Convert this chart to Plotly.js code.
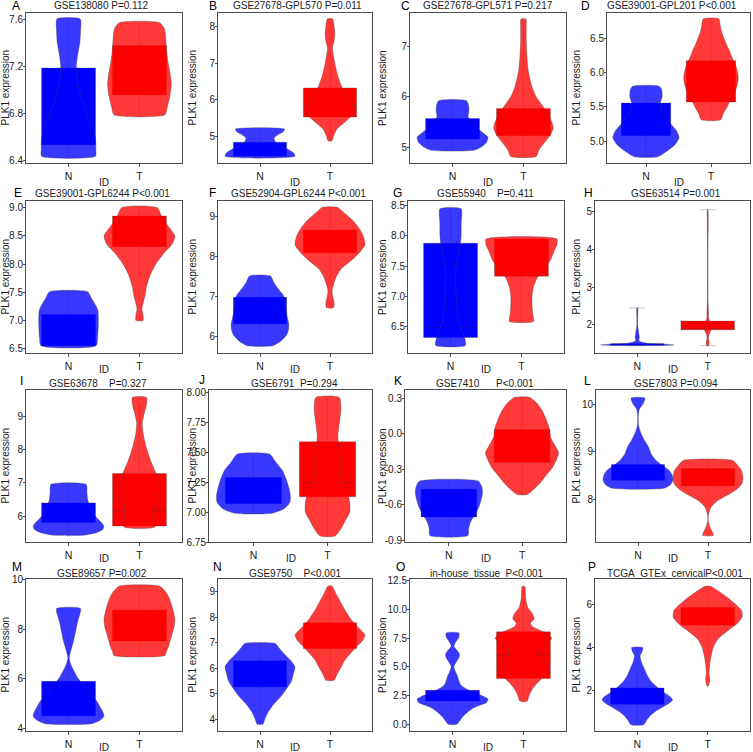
<!DOCTYPE html>
<html><head><meta charset="utf-8">
<script src="https://cdn.plot.ly/plotly-3.0.1.min.js"></script>
<style>html,body{margin:0;padding:0;background:#fff}#chart{width:753px;height:752px}</style>
</head><body><div id="chart"></div>
<script>
// ---------------- DATA ----------------
const categories = ['N', 'T'];
const letters = ['A','B','C','D','E','F','G','H','I','J','K','L','M','N','O','P'];
const titles = [
  'GSE138080 P=0.112', 'GSE27678-GPL570 P=0.011', 'GSE27678-GPL571 P=0.217', 'GSE39001-GPL201 P&lt;0.001',
  'GSE39001-GPL6244 P&lt;0.001', 'GSE52904-GPL6244 P&lt;0.001', 'GSE55940\u00a0\u00a0\u00a0 P=0.411', 'GSE63514 P=0.001',
  'GSE63678\u00a0\u00a0\u00a0 P=0.327', 'GSE6791\u00a0 P=0.294', 'GSE7410\u00a0\u00a0\u00a0\u00a0\u00a0 P&lt;0.001', 'GSE7803 P=0.094',
  'GSE89657 P=0.002', 'GSE9750\u00a0\u00a0\u00a0 P&lt;0.001', 'in-house_tissue\u00a0 P&lt;0.001', 'TCGA_GTEx_cervicalP&lt;0.001'
];
const yAxisTitle = 'PLK1 expression';
const xAxisTitle = 'ID';
const yTickVals = [
  [6.4,6.8,7.2,7.6],[5,6,7,8],[5,6,7],[5.0,5.5,6.0,6.5],
  [6.5,7,7.5,8,8.5,9],[6,7,8,9],[6.5,7,7.5,8,8.5],[2,3,4,5],
  [6,7,8,9],[6.75,7,7.25,7.5,7.75,8],[-0.9,-0.6,-0.3,0,0.3],[8,9,10],
  [4,6,8,10],[4,5,6,7,8,9],[0,2.5,5,7.5,10,12.5],[2,4,6]
];
const yTickText = [
  ['6.4','6.8','7.2','7.6'],['5','6','7','8'],['5','6','7'],['5.0','5.5','6.0','6.5'],
  ['6.5','7.0','7.5','8.0','8.5','9.0'],['6','7','8','9'],['6.5','7.0','7.5','8.0','8.5'],['2','3','4','5'],
  ['6','7','8','9'],['6.75','7.00','7.25','7.50','7.75','8.00'],['-0.9','-0.6','-0.3','0.0','0.3'],['8','9','10'],
  ['4','6','8','10'],['4','5','6','7','8','9'],['0.0','2.5','5.0','7.5','10.0','12.5'],['2','4','6']
];
// box stats: [lower, q1, median, q3, upper]
const boxN = [
  [6.44,6.538,6.63,7.186,7.6],[4.455,4.455,4.62,4.84,5.2],[4.94,5.165,5.3,5.57,5.92],[4.77,5.078,5.25,5.553,5.8],
  [6.556,6.556,6.85,7.107,7.51],[5.78,6.325,6.52,6.99,7.52],[6.18,6.313,6.478,7.879,8.45],[1.45,1.47,1.48,1.5,2.45],
  [5.43,5.81,6.0,6.4,6.95],[6.99,7.07,7.18,7.29,7.485],[-0.86,-0.703,-0.6,-0.468,-0.4],[8.23,8.4,8.55,8.73,9.1],
  [4.2,4.51,4.87,5.9,8.0],[3.8,5.27,5.9,6.29,6.97],[1.1,2.03,2.38,2.96,4.1],[0.4,1.35,1.69,2.11,2.85]
];
const boxT = [
  [6.79,6.958,7.087,7.377,7.57],[4.88,5.53,5.86,6.32,8.2],[4.82,5.23,5.395,5.77,7.54],[5.31,5.568,5.869,6.17,6.78],
  [7.75,8.308,8.48,8.852,9.0],[7.3,8.1,8.375,8.667,9.23],[6.58,7.33,7.82,7.95,7.95],[1.45,1.868,1.894,2.1,5.05],
  [5.68,5.71,6.16,7.28,9.56],[6.8,7.128,7.25,7.589,7.96],[-0.514,-0.242,-0.138,0.037,0.308],[7.9,8.28,8.457,8.648,8.82],
  [6.94,7.52,8.34,8.77,9.73],[5.53,6.775,7.27,7.78,9.22],[2.0,3.98,6.02,8.05,12.0],[3.85,5.02,5.49,5.84,6.8]
];
// violin profiles: y levels and half-widths (category units)
const vioNy = [
  [6.44,6.5,6.6,6.7,6.8,6.9,7.0,7.1,7.2,7.3,7.4,7.5,7.6],
  [4.455,4.55,4.65,4.75,4.85,4.95,5.05,5.12,5.2],
  [4.94,5.0,5.1,5.2,5.3,5.4,5.5,5.6,5.7,5.8,5.92],
  [4.77,4.85,4.95,5.05,5.15,5.25,5.35,5.45,5.55,5.65,5.75,5.8],
  [6.556,6.7,6.9,7.1,7.2,7.3,7.4,7.51],
  [5.78,5.9,6.05,6.2,6.35,6.5,6.7,6.9,7.05,7.2,7.35,7.52],
  [6.18,6.3,6.45,6.6,6.8,7.0,7.2,7.4,7.6,7.8,8.0,8.2,8.45],
  [1.45,1.47,1.49,1.51,1.55,1.6,1.65,2.0,2.45],
  [5.43,5.5,5.6,5.7,5.8,5.95,6.1,6.3,6.5,6.7,6.95],
  [6.99,7.03,7.08,7.13,7.2,7.28,7.35,7.42,7.485],
  [-0.86,-0.8,-0.74,-0.68,-0.62,-0.56,-0.5,-0.45,-0.4],
  [8.23,8.3,8.4,8.5,8.6,8.7,8.8,8.95,9.1,9.25,9.4,9.55,9.75,9.9,10.0,10.13],
  [4.2,4.35,4.5,4.7,4.9,5.1,5.3,5.5,5.75,6.0,6.3,6.6,6.85,7.1,7.5,7.9,8.3,8.6,8.83],
  [3.8,4.0,4.3,4.6,4.9,5.2,5.5,5.8,6.05,6.3,6.55,6.8,6.97],
  [0.0,0.3,0.7,1.1,1.5,1.9,2.2,2.6,3.0,3.4,3.8,4.2,4.6,5.0,5.4,5.8,6.1,6.4,6.8,7.2,7.6,7.96],
  [0.4,0.6,0.8,1.0,1.2,1.4,1.55,1.7,1.9,2.1,2.4,2.7,3.0,3.3,3.6,3.8,3.98]
];
const vioNw = [
  [0.38,0.385,0.38,0.33,0.26,0.2,0.15,0.12,0.11,0.13,0.16,0.17,0.165],
  [0.5,0.48,0.4,0.3,0.22,0.2,0.26,0.33,0.35],
  [0.3,0.4,0.48,0.5,0.42,0.33,0.28,0.22,0.23,0.23,0.2],
  [0.18,0.32,0.45,0.51,0.47,0.38,0.3,0.24,0.22,0.25,0.24,0.2],
  [0.39,0.41,0.42,0.42,0.41,0.37,0.32,0.27],
  [0.18,0.3,0.38,0.41,0.41,0.39,0.37,0.36,0.33,0.26,0.2,0.15],
  [0.21,0.2,0.15,0.11,0.09,0.08,0.07,0.07,0.09,0.13,0.15,0.15,0.15],
  [0.3,0.52,0.4,0.15,0.05,0.02,0.03,0.005,0.005],
  [0.2,0.38,0.48,0.5,0.47,0.4,0.35,0.3,0.27,0.26,0.25],
  [0.25,0.42,0.49,0.5,0.48,0.44,0.39,0.3,0.22],
  [0.26,0.27,0.3,0.36,0.41,0.44,0.46,0.45,0.4],
  [0.37,0.46,0.5,0.49,0.45,0.36,0.27,0.19,0.15,0.09,0.04,0.01,0.005,0.02,0.07,0.1],
  [0.33,0.45,0.5,0.48,0.44,0.4,0.34,0.28,0.21,0.14,0.08,0.03,0.01,0.03,0.07,0.1,0.13,0.16,0.17],
  [0.04,0.07,0.12,0.2,0.3,0.38,0.45,0.48,0.5,0.44,0.35,0.27,0.22],
  [0.06,0.1,0.15,0.22,0.32,0.48,0.5,0.38,0.22,0.12,0.09,0.07,0.04,0.02,0.05,0.09,0.1,0.07,0.02,0.05,0.09,0.09],
  [0.09,0.13,0.18,0.25,0.35,0.45,0.5,0.47,0.38,0.3,0.2,0.14,0.1,0.06,0.04,0.07,0.08]
];
const vioTy = [
  [6.79,6.85,6.95,7.05,7.15,7.25,7.35,7.45,7.52,7.57],
  [4.88,5.0,5.2,5.4,5.6,5.8,6.0,6.3,6.6,6.9,7.2,7.4,7.6,7.8,8.0,8.2],
  [4.82,4.95,5.1,5.25,5.38,5.5,5.65,5.8,6.0,6.2,6.5,6.8,7.1,7.35,7.54],
  [5.31,5.4,5.5,5.6,5.7,5.8,5.9,6.0,6.1,6.2,6.3,6.4,6.5,6.6,6.7,6.78],
  [7.0,7.1,7.2,7.3,7.45,7.6,7.8,8.0,8.2,8.35,8.5,8.65,8.8,9.0],
  [6.73,6.85,7.0,7.15,7.3,7.5,7.7,7.9,8.1,8.3,8.5,8.7,8.9,9.1,9.23],
  [6.58,6.7,6.85,7.0,7.15,7.3,7.45,7.6,7.75,7.85,7.95],
  [1.45,1.55,1.65,1.75,1.85,1.95,2.05,2.2,2.35,2.6,3.0,4.0,5.05],
  [5.68,5.9,6.1,6.4,6.7,7.0,7.3,7.6,7.9,8.2,8.5,8.8,9.1,9.35,9.56],
  [6.8,6.86,6.93,7.0,7.08,7.16,7.25,7.35,7.45,7.55,7.65,7.75,7.85,7.96],
  [-0.514,-0.48,-0.42,-0.35,-0.28,-0.22,-0.16,-0.1,-0.03,0.05,0.12,0.2,0.26,0.308],
  [7.24,7.35,7.45,7.55,7.65,7.75,7.85,7.95,8.05,8.15,8.25,8.35,8.45,8.6,8.72,8.82],
  [6.94,7.1,7.3,7.5,7.8,8.1,8.4,8.7,9.0,9.25,9.5,9.73],
  [5.53,5.7,5.9,6.1,6.35,6.6,6.85,7.1,7.3,7.5,7.75,8.0,8.3,8.6,8.9,9.22],
  [2.0,2.5,3.0,3.5,4.0,4.5,5.0,5.5,6.0,6.5,7.0,7.5,8.0,8.5,8.8,9.2,9.6,10.2,11.0,12.0],
  [2.2,2.5,2.8,3.2,3.6,4.0,4.4,4.8,5.1,5.4,5.7,6.0,6.3,6.6,6.82]
];
const vioTw = [
  [0.36,0.39,0.43,0.45,0.43,0.4,0.38,0.37,0.35,0.28],
  [0.03,0.05,0.1,0.22,0.33,0.34,0.27,0.18,0.12,0.08,0.05,0.035,0.06,0.07,0.06,0.04],
  [0.18,0.22,0.3,0.38,0.42,0.4,0.35,0.28,0.18,0.12,0.07,0.05,0.04,0.04,0.035],
  [0.15,0.19,0.25,0.3,0.36,0.4,0.42,0.41,0.38,0.33,0.29,0.24,0.2,0.16,0.14,0.12],
  [0.05,0.05,0.035,0.05,0.08,0.1,0.15,0.23,0.35,0.46,0.5,0.42,0.33,0.25],
  [0.05,0.06,0.04,0.03,0.05,0.09,0.16,0.3,0.42,0.5,0.48,0.42,0.33,0.2,0.11],
  [0.17,0.16,0.15,0.15,0.17,0.22,0.32,0.41,0.46,0.5,0.5],
  [0.015,0.02,0.01,0.02,0.045,0.05,0.03,0.012,0.012,0.005,0.003,0.003,0.003],
  [0.22,0.22,0.21,0.22,0.25,0.26,0.23,0.17,0.12,0.08,0.05,0.04,0.07,0.1,0.1],
  [0.1,0.18,0.24,0.3,0.3,0.27,0.2,0.17,0.17,0.15,0.14,0.16,0.18,0.16],
  [0.07,0.14,0.24,0.33,0.42,0.47,0.5,0.45,0.39,0.37,0.33,0.27,0.2,0.1],
  [0.08,0.05,0.02,0.005,0.005,0.02,0.05,0.12,0.23,0.35,0.44,0.49,0.5,0.48,0.42,0.35],
  [0.36,0.38,0.41,0.43,0.46,0.49,0.5,0.48,0.45,0.42,0.37,0.28],
  [0.06,0.09,0.13,0.17,0.22,0.3,0.38,0.47,0.5,0.44,0.35,0.28,0.21,0.15,0.09,0.03],
  [0.05,0.08,0.12,0.18,0.26,0.33,0.36,0.3,0.21,0.22,0.32,0.4,0.3,0.13,0.1,0.15,0.13,0.06,0.03,0.02],
  [0.01,0.03,0.02,0.03,0.05,0.08,0.15,0.3,0.42,0.49,0.48,0.39,0.28,0.15,0.04]
];

// ---------------- LAYOUT (pixels) ----------------
const W = 753, H = 752;
const yRanges = [
  [6.383,7.651],[4.273,8.364],[4.69,7.66],[4.68,6.864],
  [6.426,9.118],[5.6,9.39],[6.055,8.58],[1.255,5.28],
  [5.23,9.78],[6.75,8.022],[-0.915,0.37],[7.1,10.3],
  [3.906,10.01],[3.54,9.5],[-0.58,12.65],[0.11,7.16]
];
const panelX = [
  [26,182],[218,372],[410,566],[607,750],
  [26,182],[218,372],[408,564],[595,750],
  [26,182],[209,372],[405,566],[596,750],
  [26,182],[218,372],[410,566],[595,750]
];
const rowY = [[13,163],[201,353],[390,542],[579,731]];
const idY = [182, 369, 558, 747];
const yTitleX = [4.5, 191.5, 382, 575.5];
const titlePos = [
  [101,5],[297,5],[488,5],[672,5],
  [102,193],[298,193],[485,193],[676,193],
  [98,384],[294,384],[485,384],[676,384],
  [102,573],[295,573],[487,573],[675,573]
];
const letterPos = [
  [16,6],[213,6],[405,6],[585,6],
  [18,193],[212,193],[397,193],[588,193],
  [21,381],[202,380],[398,381],[587,381],
  [17,567],[217,567],[400,567],[592,567]
];

const FONT = 'Liberation Sans, Arial, Helvetica, sans-serif';
const fillCol = ['rgba(0,0,255,0.78)', 'rgba(255,0,0,0.78)'];
const boxCol = ['#0000ff', '#ff0000'];

const traces = [];
const layout = {
  width: W, height: H,
  margin: {l: 0, r: 0, t: 0, b: 0},
  paper_bgcolor: '#fff', plot_bgcolor: '#fff',
  showlegend: false,
  font: {family: FONT, size: 10, color: '#1a1a1a'},
  annotations: []
};

for (let i = 0; i < 16; i++) {
  const r = Math.floor(i / 4), col = i % 4;
  const sfx = i === 0 ? '' : String(i + 1);
  const xa = 'x' + sfx, ya = 'y' + sfx;
  const [x0, x1] = panelX[i];
  const [py0, py1] = rowY[r];
  layout['xaxis' + sfx] = {
    domain: [x0 / W, x1 / W], anchor: ya, range: [0.4, 2.6],
    tickvals: [1, 2], ticktext: categories,
    showgrid: false, zeroline: false, showline: true, mirror: true,
    linecolor: '#4d4d4d', linewidth: 1,
    ticks: 'outside', ticklen: 3, tickcolor: '#4d4d4d',
    tickfont: {family: FONT, size: 10.5, color: '#1a1a1a'},
    fixedrange: true
  };
  layout['yaxis' + sfx] = {
    domain: [1 - py1 / H, 1 - py0 / H], anchor: xa, range: yRanges[i],
    tickvals: yTickVals[i], ticktext: yTickText[i],
    showgrid: false, zeroline: false, showline: true, mirror: true,
    linecolor: '#4d4d4d', linewidth: 1,
    ticks: 'outside', ticklen: 2, tickcolor: '#4d4d4d',
    ticklabelstandoff: -2,
    tickfont: {family: FONT, size: 10, color: '#1a1a1a'},
    fixedrange: true
  };

  const stats = [boxN[i], boxT[i]];
  const vy = [vioNy[i], vioTy[i]];
  const vw = [vioNw[i], vioTw[i]];
  for (let g = 0; g < 2; g++) {
    const s = stats[g];
    traces.push({
      type: 'box', xaxis: xa, yaxis: ya,
      x: [g + 1],
      lowerfence: [s[0]], q1: [s[1]], median: [s[2]], q3: [s[3]], upperfence: [s[4]],
      width: 0.76, fillcolor: boxCol[g],
      line: {color: 'rgba(50,50,50,0.45)', width: 0.6},
      whiskerwidth: i === 7 ? 0.3 : 0,
      hoverinfo: 'skip'
    });
  }
  for (let g = 0; g < 2; g++) {
    const c = g + 1;
    const ys = vy[g], ws = vw[g];
    const px = [], pyy = [];
    for (let k = 0; k < ys.length; k++) { px.push(c - ws[k]); pyy.push(ys[k]); }
    for (let k = ys.length - 1; k >= 0; k--) { px.push(c + ws[k]); pyy.push(ys[k]); }
    px.push(px[0]); pyy.push(pyy[0]);
    traces.push({
      type: 'scatter', mode: 'lines', xaxis: xa, yaxis: ya,
      x: px, y: pyy, fill: 'toself', fillcolor: fillCol[g],
      line: {color: 'rgba(70,70,70,0.7)', width: 0.5, shape: 'spline', smoothing: 0.6},
      hoverinfo: 'skip'
    });
  }

  layout.annotations.push({
    xref: 'paper', yref: 'paper', x: titlePos[i][0] / W, y: 1 - titlePos[i][1] / H,
    xanchor: 'center', yanchor: 'middle', showarrow: false,
    text: titles[i], font: {family: FONT, size: 10, color: '#1a1a1a'}
  });
  layout.annotations.push({
    xref: 'paper', yref: 'paper', x: letterPos[i][0] / W, y: 1 - letterPos[i][1] / H,
    xanchor: 'center', yanchor: 'middle', showarrow: false,
    text: letters[i], font: {family: FONT, size: 12, color: '#000'}
  });
  layout.annotations.push({
    xref: 'paper', yref: 'paper', x: yTitleX[col] / W, y: 1 - ((py0 + py1) / 2) / H,
    xanchor: 'center', yanchor: 'middle', showarrow: false, textangle: -90,
    text: yAxisTitle, font: {family: FONT, size: 10, color: '#1a1a1a'}
  });
  layout.annotations.push({
    xref: 'paper', yref: 'paper', x: ((x0 + x1) / 2) / W, y: 1 - idY[r] / H,
    xanchor: 'center', yanchor: 'middle', showarrow: false,
    text: xAxisTitle, font: {family: FONT, size: 10, color: '#1a1a1a'}
  });
}

Plotly.newPlot('chart', traces, layout, {staticPlot: true, displayModeBar: false});
</script>
</body></html>
